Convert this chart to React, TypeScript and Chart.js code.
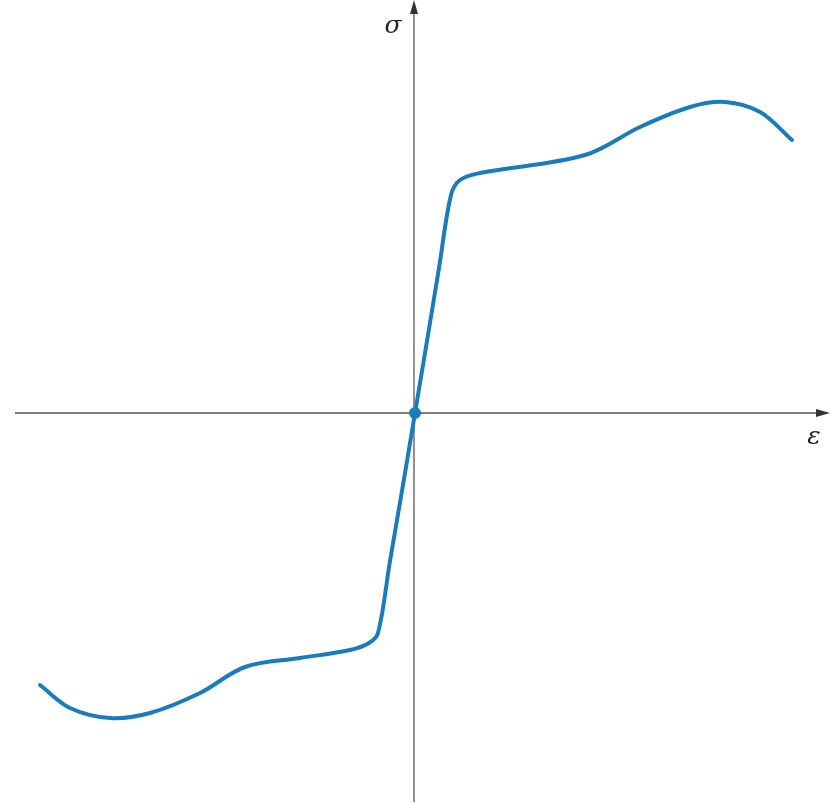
import React, { useEffect, useRef } from "react";
import { Chart, registerables } from "chart.js";
Chart.register(...registerables);

const strainValues = [-375, -345, -305, -265, -215, -170, -115, -65, -46, -37, -25, -12, 0, 12, 24, 36, 45, 65, 170, 225, 275, 310, 345, 377];
const stressValues = [-272, -295, -305, -300, -280, -254, -245, -237, -230, -220, -148, -72, 0, 72, 145, 218, 233, 240, 258, 286, 306, 311, 301, 273];
const xAxisLabel = "ε";
const yAxisLabel = "σ";

const axesPlugin = {
  id: "axesPlugin",
  beforeDatasetsDraw(chart: any) {
    const { ctx } = chart;
    const xs = chart.scales.x;
    const ys = chart.scales.y;
    const x0 = xs.getPixelForValue(0) - 1;
    const y0 = ys.getPixelForValue(0);
    ctx.save();
    ctx.strokeStyle = "#555";
    ctx.fillStyle = "#333";
    ctx.lineWidth = 1.3;
    ctx.beginPath();
    ctx.moveTo(15, y0);
    ctx.lineTo(820, y0);
    ctx.stroke();
    ctx.beginPath();
    ctx.moveTo(830, y0);
    ctx.lineTo(816, y0 - 4);
    ctx.lineTo(816, y0 + 4);
    ctx.closePath();
    ctx.fill();
    ctx.beginPath();
    ctx.moveTo(x0, 802);
    ctx.lineTo(x0, 8);
    ctx.stroke();
    ctx.beginPath();
    ctx.moveTo(x0, 0);
    ctx.lineTo(x0 - 4, 14);
    ctx.lineTo(x0 + 4, 14);
    ctx.closePath();
    ctx.fill();
    ctx.fillStyle = "#222";
    ctx.font = "italic 25px 'DejaVu Serif', 'Liberation Serif', serif";
    ctx.textAlign = "center";
    ctx.textBaseline = "middle";
    ctx.fillText(yAxisLabel, 393, 26);
    ctx.fillText(xAxisLabel, 814, 437);
    ctx.restore();
  },
};

export default function App() {
  const ref = useRef<HTMLCanvasElement | null>(null);
  useEffect(() => {
    document.body.style.margin = "0";
    const data = strainValues.map((x, i) => ({ x, y: stressValues[i] }));
    const chart = new Chart(ref.current!, {
      type: "scatter",
      data: {
        datasets: [
          {
            data,
            showLine: true,
            borderColor: "#1a7cbd",
            backgroundColor: "#1a7cbd",
            borderWidth: 4,
            tension: 0.35,
            pointRadius: data.map((p) => (p.x === 0 ? 4 : 0)),
            borderCapStyle: "round",
          } as any,
        ],
      },
      options: {
        animation: false,
        responsive: false,
        layout: { padding: 0 },
        plugins: { legend: { display: false }, tooltip: { enabled: false } },
        scales: {
          x: { type: "linear", min: -415, max: 417, display: false },
          y: { type: "linear", min: -392, max: 413, display: false },
        },
      },
      plugins: [axesPlugin],
    });
    return () => chart.destroy();
  }, []);
  return (
    <div style={{ position: "absolute", left: 0, top: 0, width: 832, height: 805, background: "#fff" }}>
      <canvas ref={ref} width={832} height={805} style={{ width: 832, height: 805 }} />
    </div>
  );
}
